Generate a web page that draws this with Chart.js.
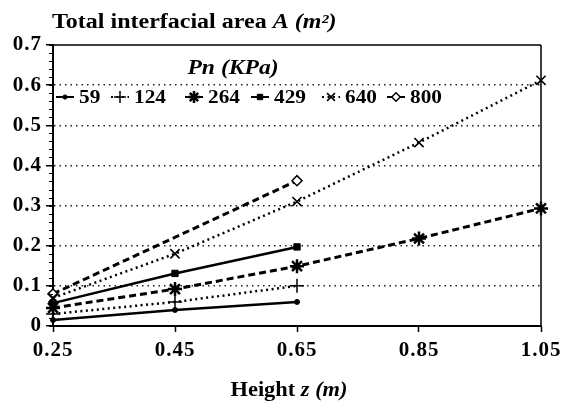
<!DOCTYPE html>
<html>
<head>
<meta charset="utf-8">
<title>Total interfacial area</title>
<script src="https://cdn.jsdelivr.net/npm/chart.js@4.4.1/dist/chart.umd.min.js"></script>
<style>
  html, body { margin: 0; padding: 0; background: #fff; }
  canvas { display: block; }
</style>
</head>
<body>
<canvas id="area_chart" width="573" height="401"></canvas>
<script>
// data
const heights   = [0.25, 0.45, 0.65, 0.85, 1.05];
const yTicks    = [0, 0.1, 0.2, 0.3, 0.4, 0.5, 0.6, 0.7];
const pressures = ['59', '124', '264', '429', '640', '800'];

const area59  = [0.015, 0.040, 0.060];
const area124 = [0.030, 0.060, 0.100];
const area264 = [0.045, 0.092, 0.149, 0.218, 0.293];
const area429 = [0.057, 0.131, 0.197];
const area640 = [0.070, 0.180, 0.310, 0.457, 0.612];
const area800 = [0.080, null, 0.362];

const area_canvas = document.getElementById('area_chart');
const SERIF = '"Liberation Serif", "Times New Roman", serif';

const DOTTED = [2, 3.5];
const DASHED = [7, 4];

const toPoints = (vals) => vals.map((v, i) => ({ x: heights[i], y: v }));

// one entry per pressure, same order as the legend
const seriesStyle = [
    { vals: area59,  dash: [],     width: 2.5, point: 'circle',   radius: 2.5, pw: 1,   fill: '#000' },
    { vals: area124, dash: DOTTED, width: 2.5, point: 'cross',    radius: 7,   pw: 1.5, fill: '#000' },
    { vals: area264, dash: DASHED, width: 3,   point: 'star',     radius: 7,   pw: 2.5, fill: '#000' },
    { vals: area429, dash: [],     width: 2.5, point: 'rect',     radius: 4.5, pw: 1,   fill: '#000' },
    { vals: area640, dash: DOTTED, width: 2.5, point: 'crossRot', radius: 6.5, pw: 1.6, fill: '#000' },
    { vals: area800, dash: DASHED, width: 3,   point: 'rectRot',  radius: 5,   pw: 1.5, fill: '#fff' }
];

const datasets = seriesStyle.map((s, i) => ({
    label: pressures[i],
    data: toPoints(s.vals),
    borderColor: '#000',
    borderWidth: s.width,
    borderDash: s.dash,
    pointStyle: s.point,
    pointRadius: s.radius,
    pointHoverRadius: s.radius,
    pointBorderWidth: s.pw,
    pointBorderColor: '#000',
    pointBackgroundColor: s.fill,
    spanGaps: true,
    tension: 0,
    clip: false
}));

// draws a run of [text, font] pieces, squeezed or widened by sx
const drawRuns = (ctx, runs, x, y, align, sx) => {
    let total = 0;
    runs.forEach(r => { ctx.font = r[1]; total += ctx.measureText(r[0]).width; });
    const start = align === 'center' ? x - total * sx / 2 : x;
    ctx.save();
    ctx.translate(start, y);
    ctx.scale(sx, 1);
    let cx = 0;
    runs.forEach(r => {
        ctx.font = r[1];
        ctx.fillText(r[0], cx, 0);
        cx += ctx.measureText(r[0]).width;
    });
    ctx.restore();
};

// wider spacing for the tick labels
const spacingPlugin = {
    id: 'spacing',
    beforeDraw(chart) { chart.ctx.letterSpacing = '1px'; },
    afterDraw(chart) { chart.ctx.letterSpacing = '0px'; }
};

// frame, minor ticks, titles and the legend inside the plot
const decorPlugin = {
    id: 'decor',
    afterDraw(chart) {
        const ctx = chart.ctx;
        const a = chart.chartArea;
        const yScale = chart.scales.y;

        ctx.save();
        ctx.letterSpacing = '0px';
        ctx.strokeStyle = '#000';
        ctx.setLineDash([]);

        // top and right edges of the box
        ctx.lineWidth = 1.5;
        ctx.beginPath();
        ctx.moveTo(a.left, a.top);
        ctx.lineTo(a.right, a.top);
        ctx.moveTo(a.right, a.top);
        ctx.lineTo(a.right, a.bottom);
        ctx.stroke();

        // minor ticks every 0.02 on the value axis
        ctx.lineWidth = 1;
        ctx.beginPath();
        for (let i = 0; i <= 35; i++) {
            const py = Math.round(yScale.getPixelForValue(i / 50)) + 0.5;
            ctx.moveTo(a.left - 4, py);
            ctx.lineTo(a.left, py);
        }
        ctx.stroke();

        // titles
        ctx.fillStyle = '#000';
        ctx.textBaseline = 'alphabetic';
        const B  = 'bold 20px ' + SERIF;
        const BI = 'italic bold 20px ' + SERIF;
        drawRuns(ctx, [['Total interfacial area ', B], ['A (m\u00b2)', BI]], 52, 28, 'left', 1.2);
        drawRuns(ctx, [['Height ', B], ['z (m)', BI]], 289, 396, 'center', 1.12);
        drawRuns(ctx, [['Pn (KPa)', BI]], 233, 74, 'center', 1.18);

        // legend row
        const legendY = 97;
        const markX = [65, 120, 194, 260, 331, 396];
        seriesStyle.forEach((s, i) => {
            const mx = markX[i];
            ctx.lineWidth = Math.min(s.width, 2);
            ctx.setLineDash(s.dash);
            ctx.beginPath();
            ctx.moveTo(mx - 9, legendY);
            ctx.lineTo(mx + 9, legendY);
            ctx.stroke();

            ctx.setLineDash([]);
            ctx.lineWidth = s.pw;
            ctx.fillStyle = s.fill;
            Chart.helpers.drawPoint(ctx, {
                pointStyle: s.point,
                radius: s.radius * 0.85,
                rotation: 0,
                borderWidth: s.pw
            }, mx, legendY);

            ctx.fillStyle = '#000';
            ctx.textBaseline = 'middle';
            drawRuns(ctx, [[pressures[i], 'bold 19px ' + SERIF]], mx + 14, legendY + 1, 'left', 1.12);
        });
        ctx.restore();
    }
};

var area_chart_ref = new Chart(area_canvas, {
    type: 'line',
    data: { datasets: datasets },
    options: {
        responsive: false,
        animation: false,
        devicePixelRatio: 1,
        layout: { padding: { left: 0, right: 32, top: 45, bottom: 0 } },
        plugins: {
            legend: { display: false },
            title: { display: false },
            tooltip: { enabled: false }
        },
        scales: {
            x: {
                type: 'linear',
                min: 0.25,
                max: 1.05,
                afterBuildTicks: (scale) => { scale.ticks = heights.map(v => ({ value: v })); },
                afterFit: (scale) => { scale.height = 75; },
                grid: { drawOnChartArea: false, drawTicks: true, tickLength: 6, tickColor: '#000', tickWidth: 1.5 },
                border: { display: true, color: '#000', width: 2 },
                ticks: {
                    color: '#000',
                    padding: 6,
                    maxRotation: 0,
                    autoSkip: false,
                    font: { family: SERIF, size: 21, weight: 'bold' },
                    callback: (v) => Number(v).toFixed(2)
                }
            },
            y: {
                type: 'linear',
                min: 0,
                max: 0.7,
                afterBuildTicks: (scale) => { scale.ticks = yTicks.map(v => ({ value: v })); },
                afterFit: (scale) => { scale.width = 53; },
                grid: {
                    drawOnChartArea: true,
                    tickLength: 7,
                    tickColor: '#000',
                    tickWidth: 1.5,
                    lineWidth: 1.5,
                    color: (c) => (c.tick && c.tick.value > 0 && c.tick.value < 0.65) ? '#222' : 'rgba(0,0,0,0)'
                },
                border: { display: true, color: '#000', width: 2, dash: [1.5, 4] },
                ticks: {
                    color: '#000',
                    padding: 4,
                    autoSkip: false,
                    font: { family: SERIF, size: 21, weight: 'bold' },
                    callback: (v) => v === 0 ? '0' : Number(v).toFixed(1)
                }
            }
        }
    },
    plugins: [spacingPlugin, decorPlugin]
});
</script>
</body>
</html>
